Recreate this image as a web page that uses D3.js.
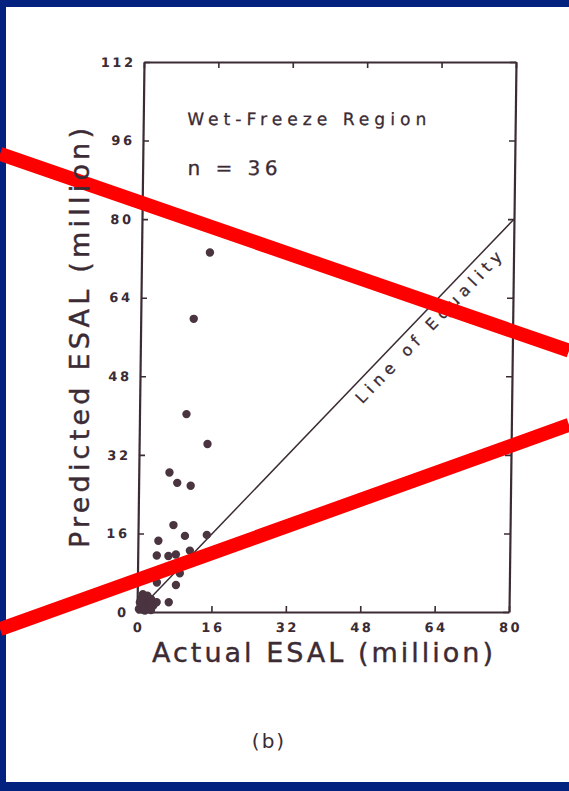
<!DOCTYPE html>
<html><head><meta charset="utf-8">
<script src="https://cdn.jsdelivr.net/npm/d3@7"></script>
<style>html,body{margin:0;padding:0;background:#fff;overflow:hidden}svg{display:block}</style>
</head><body><svg id="c" width="569" height="791"></svg>
<script>
// ---- data ----
const xTicks = [0, 16, 32, 48, 64, 80];
const yTicks = [0, 16, 32, 48, 64, 80, 96, 112];
const actualESAL = [14.7, 11.4, 10.1, 14.7, 6.6, 8.3, 11.2, 7.6, 4.4, 10.1, 14.8, 4.1, 6.6, 8.2, 11.2, 9.1, 4.2, 8.3, 6.8,
  0.4, 0.9, 1.4, 1.9, 2.4, 3.0, 1.0, 3.5, 0.6, 2.2, 4.2, 1.7, 3.0, 2.8, 1.2, 7.0, 10.0];
const predictedESAL = [73.2, 59.7, 40.3, 34.2, 28.4, 26.3, 25.7, 17.7, 14.5, 15.5, 15.7, 11.5, 11.4, 11.7, 12.5, 7.9, 6.0, 5.5, 2.0,
  0.6, 1.4, 0.5, 2.1, 1.0, 2.6, 2.8, 1.3, 2.0, 3.3, 2.0, 0.3, 0.4, 1.7, 3.6, 9.0, 9.5];
const equalityX = [0, 80];
const equalityY = [0, 80];
const regionLabel = "Wet-Freeze Region";
const countLabel = "n = 36";
const xTitle = "Actual ESAL (million)";
const yTitle = "Predicted ESAL (million)";
const panelLabel = "(b)";
const lineLabel = "Line of Equality";
const redLineX = [[-30.7, 92.2], [-29.4, 92.4]];
const redLineY = [[93.3, 53.2], [-3.5, 38.1]];

// ---- layout ----
const W = 372, H = 550;
const ink = "#3b2b34", dotInk = "#4a3440", navy = "#03217f";
const svg = d3.select("#c");
svg.append("rect").attr("width", 569).attr("height", 791).attr("fill", "#ffffff");
svg.append("rect").attr("x", 0).attr("y", 0).attr("width", 569).attr("height", 7).attr("fill", navy);
svg.append("rect").attr("x", 0).attr("y", 0).attr("width", 6).attr("height", 791).attr("fill", navy);
svg.append("rect").attr("x", 0).attr("y", 782).attr("width", 569).attr("height", 9).attr("fill", navy);

const x = d3.scaleLinear().domain([0, 80]).range([0, W]);
const y = d3.scaleLinear().domain([0, 112]).range([H, 0]);

const g = svg.append("g").attr("transform", "translate(144,62) skewX(-0.729)");

const font = "'DejaVu Sans', sans-serif";
const ls = 2.5;

function styleAxis(sel) {
  sel.selectAll("path.domain").attr("stroke", ink).attr("stroke-width", 2.2);
  sel.selectAll(".tick line").attr("stroke", ink).attr("stroke-width", 1.6);
  sel.selectAll(".tick text").attr("fill", ink).attr("font-family", font)
    .attr("font-size", 13).attr("font-weight", "bold").attr("letter-spacing", ls);
}

const gx = g.append("g").attr("transform", `translate(0,${H})`)
  .call(d3.axisBottom(x).tickValues(xTicks).tickSizeInner(-6).tickSizeOuter(0).tickPadding(11));
styleAxis(gx);
gx.selectAll(".tick text").attr("dx", ls / 2);

const gy = g.append("g")
  .call(d3.axisLeft(y).tickValues(yTicks).tickSizeInner(-6).tickSizeOuter(0).tickPadding(11 - ls));
styleAxis(gy);

const gt = g.append("g")
  .call(d3.axisTop(x).tickValues(xTicks).tickSizeInner(-6).tickSizeOuter(0).tickFormat(""));
styleAxis(gt);
const gr = g.append("g").attr("transform", `translate(${W},0)`)
  .call(d3.axisRight(y).tickValues(yTicks).tickSizeInner(-6).tickSizeOuter(0).tickFormat(""));
styleAxis(gr);

// line of equality
g.append("line")
  .attr("x1", x(equalityX[0])).attr("y1", y(equalityY[0]))
  .attr("x2", x(equalityX[1])).attr("y2", y(equalityY[1]))
  .attr("stroke", ink).attr("stroke-width", 1.5);

const ang = Math.atan2(y(80) - y(0), x(80) - x(0));
const startD = 44.9, off = 19;
const lx = x(startD) - Math.sin(ang) * off, ly = y(startD) + Math.cos(ang) * off;
g.append("text").attr("transform", `translate(${lx},${ly}) rotate(${ang * 180 / Math.PI})`)
  .attr("font-family", font).attr("font-size", 16).attr("fill", ink).attr("stroke", ink).attr("stroke-width", 0.3)
  .attr("textLength", 202).attr("lengthAdjust", "spacing").text(lineLabel);

// points
g.selectAll("circle.pt").data(actualESAL).join("circle").attr("class", "pt")
  .attr("cx", (d) => x(d)).attr("cy", (d, i) => y(predictedESAL[i]))
  .attr("r", 4.2).attr("fill", dotInk);

// annotations inside plot
g.append("text").attr("x", 44).attr("y", 63).attr("font-family", font).attr("font-size", 17)
  .attr("fill", ink).attr("stroke", ink).attr("stroke-width", 0.3)
  .attr("textLength", 239).attr("lengthAdjust", "spacing").text(regionLabel);
g.append("text").attr("x", 45).attr("y", 113).attr("font-family", font).attr("font-size", 20)
  .attr("fill", ink).attr("stroke", ink).attr("stroke-width", 0.3)
  .attr("textLength", 90).attr("lengthAdjust", "spacing").text(countLabel);

// titles
svg.append("text").attr("x", 152).attr("y", 662).attr("font-family", font).attr("font-size", 27)
  .attr("fill", ink).attr("stroke", ink).attr("stroke-width", 0.4)
  .attr("textLength", 341).attr("lengthAdjust", "spacing").text(xTitle);
svg.append("text").attr("transform", "translate(89,548) rotate(-90)").attr("font-family", font)
  .attr("font-size", 27).attr("fill", ink).attr("stroke", ink).attr("stroke-width", 0.4)
  .attr("textLength", 420).attr("lengthAdjust", "spacing").text(yTitle);
svg.append("text").attr("x", 268).attr("y", 748).attr("text-anchor", "middle").attr("font-family", font)
  .attr("font-size", 20).attr("fill", ink).attr("letter-spacing", 2).attr("dx", 1).text(panelLabel);

// red overlay lines
g.selectAll("line.red").data(redLineX).join("line").attr("class", "red")
  .attr("x1", (d) => x(d[0])).attr("x2", (d) => x(d[1]))
  .attr("y1", (d, i) => y(redLineY[i][0])).attr("y2", (d, i) => y(redLineY[i][1]))
  .attr("stroke", "#ff0000").attr("stroke-width", 14);
</script></body></html>
